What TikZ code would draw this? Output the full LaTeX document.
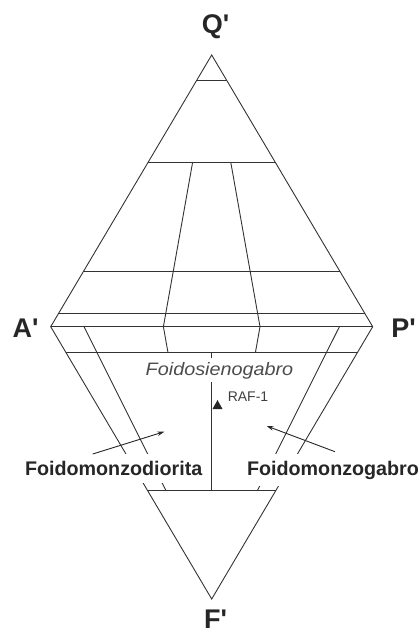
\documentclass[tikz,border=0pt]{standalone}
\usepackage{fontspec}
\setmainfont{Liberation Sans}
\usetikzlibrary{calc,arrows.meta}
\begin{document}
\begin{tikzpicture}[x=1pt,y=-1pt,
  edge/.style={draw=black!80,line width=0.9pt,line join=miter},
  arr/.style={draw=black!85,line width=0.9pt,-{Stealth[length=7pt,width=4.5pt]}},
  vlabel/.style={font=\fontsize{27}{27}\selectfont\bfseries,text=black!85,inner sep=0pt,anchor=base},
  field/.style={font=\fontsize{19.7}{20}\selectfont\bfseries,text=black!85,fill=white,inner xsep=1pt,inner ysep=7pt,anchor=base},
  sub/.style={font=\fontsize{18}{18}\selectfont\itshape,text=black!70,fill=white,inner xsep=1pt,inner ysep=3.5pt,anchor=base},
  small/.style={font=\fontsize{14}{14}\selectfont,text=black!75,inner sep=0pt,anchor=base}]
\useasboundingbox (0,0) rectangle (420,633);
% vertices
\coordinate (Q) at (211.7,55);
\coordinate (A) at (50.7,326.7);
\coordinate (P) at (372.7,326.7);
\coordinate (F) at (211.7,599);
% ratio points on A-P
\coordinate (ap35) at ($(A)!0.35!(P)$);
\coordinate (ap65) at ($(A)!0.65!(P)$);
% outline
\draw[edge] (Q) -- (A) -- (F) -- (P) -- cycle;
% upper horizontal lines
\foreach \t in {0.092,0.395,0.798,0.951}
  \draw[edge] ($(Q)!\t!(A)$) -- ($(Q)!\t!(P)$);
\draw[edge] (A) -- (P);
% lower horizontal lines
\coordinate (f10l) at ($(A)!0.0955!(F)$);
\coordinate (f10r) at ($(P)!0.0955!(F)$);
\coordinate (f60l) at ($(A)!0.602!(F)$);
\coordinate (f60r) at ($(P)!0.602!(F)$);
\draw[edge] (f10l) -- (f10r);
\draw[edge] (f60l) -- (f60r);
% ratio lines 35 / 65
\draw[edge] ($(ap35)!0.605!(Q)$) -- (ap35) -- ($(ap35)!0.0955!(F)$);
\draw[edge] ($(ap65)!0.605!(Q)$) -- (ap65) -- ($(ap65)!0.0955!(F)$);
% inner lower lines
\coordinate (l1) at (84,326.7);
\coordinate (l2) at (166,490.5);
\coordinate (r1) at (339.4,326.7);
\coordinate (r2) at (257.4,490.5);
\draw[edge] (l1) -- (l2);
\draw[edge] (r1) -- (r2);
% central line
\coordinate (c1) at ($(f10l)!0.5!(f10r)$);
\coordinate (c2) at ($(f60l)!0.5!(f60r)$);
\draw[edge] (c1) -- (c2);
% vertex labels
\node[vlabel] (qlab) at (215.5,33.5) {Q\textquotesingle};
\node[vlabel] (alab) at (25.5,337.7) {A\textquotesingle};
\node[vlabel] (plab) at (403.5,337) {P\textquotesingle};
\node[vlabel] (flab) at (215.5,628) {F\textquotesingle};
% field labels
\node[field] (fmd) at (113.7,475.5) {Foidomonzodiorita};
\node[field] (fmg) at (333,475) {Foidomonzogabro};
\node[sub] (fsg) at (219.5,375) {\scalebox{1.1}[1]{Foidosienogabro}};
% sample
\node[small] (raf) at (248,401.7) {RAF-1};
\fill[black!85] (212.5,409) -- (222.5,409) -- (217.5,400) -- cycle;
% arrows
\coordinate (at1) at (92.7,454);
\coordinate (ah1) at (164.3,431.7);
\coordinate (at2) at (335,451.7);
\coordinate (ah2) at (266.7,426);
\draw[arr] (at1) -- (ah1);
\draw[arr] (at2) -- (ah2);
\end{tikzpicture}
\end{document}
